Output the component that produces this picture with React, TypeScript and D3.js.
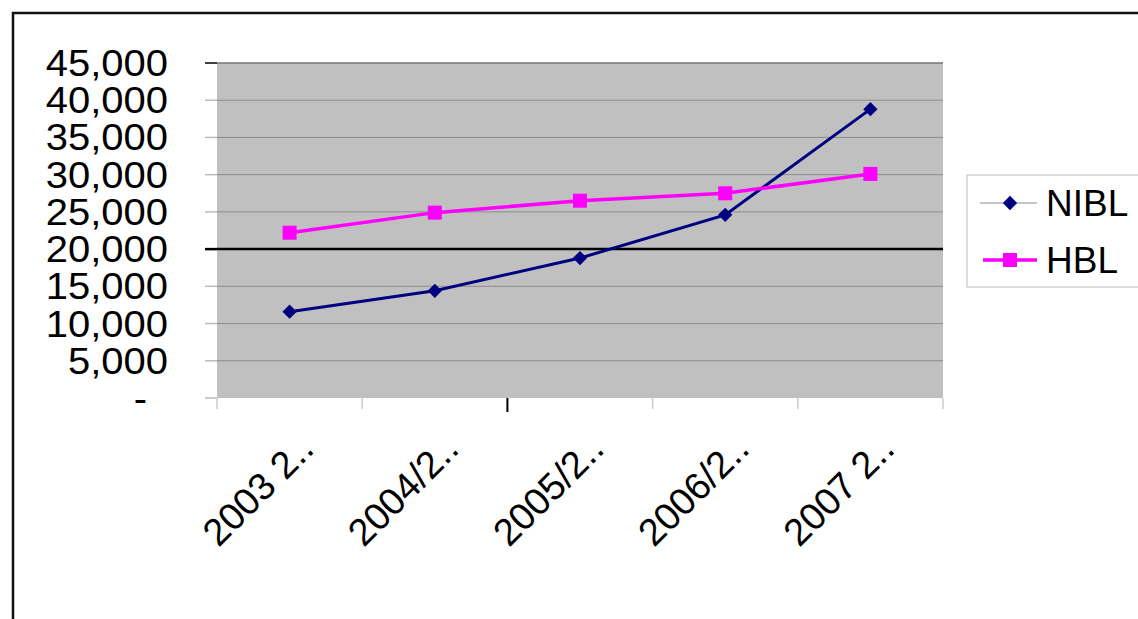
import React, { useEffect, useRef } from "react";
import * as d3 from "d3";

const categories = ["2003 2..", "2004/2..", "2005/2..", "2006/2..", "2007 2.."];
const nibl = [11600, 14400, 18800, 24600, 38800];
const hbl = [22200, 24900, 26500, 27500, 30100];
const yTicks = [0, 5000, 10000, 15000, 20000, 25000, 30000, 35000, 40000, 45000];

const App = () => {
  const ref = useRef(null);

  useEffect(() => {
    const svg = d3.select(ref.current);
    svg.selectAll("*").remove();

    const font = "Arial, 'Liberation Sans', sans-serif";
    const plot = { left: 217, right: 943, top: 63, bottom: 398 };

    // outer frame (top + left only visible)
    svg
      .append("path")
      .attr("d", "M13,619 L13,13 L1138,13")
      .attr("fill", "none")
      .attr("stroke", "#111")
      .attr("stroke-width", 2.5);

    const x = d3
      .scaleBand()
      .domain(categories)
      .range([plot.left, plot.right]);

    const y = d3
      .scaleLinear()
      .domain([0, 45000])
      .range([plot.bottom, plot.top]);

    // plot background
    svg
      .append("rect")
      .attr("x", plot.left)
      .attr("y", plot.top)
      .attr("width", plot.right - plot.left)
      .attr("height", plot.bottom - plot.top)
      .attr("fill", "#c0c0c0");

    // gridlines
    svg
      .selectAll(".grid")
      .data(yTicks.filter((t) => t > 0))
      .enter()
      .append("line")
      .attr("x1", plot.left)
      .attr("x2", plot.right)
      .attr("y1", (d) => y(d))
      .attr("y2", (d) => y(d))
      .attr("stroke", (d) => (d === 20000 ? "#000" : d === 45000 ? "#777" : "#8c8c8c"))
      .attr("stroke-width", (d) => (d === 20000 ? 2.5 : d === 45000 ? 1.5 : 1));

    // y tick marks
    svg
      .selectAll(".ytick")
      .data(yTicks)
      .enter()
      .append("line")
      .attr("x1", plot.left - 12)
      .attr("x2", plot.left)
      .attr("y1", (d) => y(d))
      .attr("y2", (d) => y(d))
      .attr("stroke", (d) => (d === 45000 || d === 20000 ? "#000" : "#bbb"))
      .attr("stroke-width", (d) => (d === 20000 ? 2.5 : 1.5));

    // y labels (slightly stretched, like the original)
    svg
      .selectAll(".ylab")
      .data(yTicks)
      .enter()
      .append("text")
      .attr("transform", (d) => `translate(${d === 0 ? 147 : 168},${y(d) + 13}) scale(1.08,1)`)
      .attr("text-anchor", "end")
      .attr("font-family", font)
      .attr("font-size", 37)
      .attr("fill", "#000")
      .text((d) => (d === 0 ? "-" : d3.format(",")(d)));

    // x tick marks at band edges
    const edges = categories.map((c) => x(c)).concat([plot.right]);
    svg
      .selectAll(".xtick")
      .data(edges)
      .enter()
      .append("line")
      .attr("x1", (d) => d)
      .attr("x2", (d) => d)
      .attr("y1", plot.bottom)
      .attr("y2", (d, i) => (i === 2 ? plot.bottom + 14 : plot.bottom + 11))
      .attr("stroke", (d, i) => (i === 2 ? "#000" : "#ccc"))
      .attr("stroke-width", (d, i) => (i === 2 ? 2 : 1.5));

    // x labels
    svg
      .selectAll(".xlab")
      .data(categories)
      .enter()
      .append("text")
      .attr("transform", (d) => `translate(${x(d) + x.bandwidth() / 2 + 26},${plot.bottom + 53}) rotate(-45)`)
      .attr("text-anchor", "end")
      .attr("font-family", font)
      .attr("font-size", 38)
      .attr("fill", "#000")
      .text((d) => d);

    const cx = (d, i) => x(categories[i]) + x.bandwidth() / 2;
    const line = d3
      .line()
      .x((d, i) => cx(d, i))
      .y((d) => y(d));

    // NIBL
    svg
      .append("path")
      .datum(nibl)
      .attr("d", line)
      .attr("fill", "none")
      .attr("stroke", "#000080")
      .attr("stroke-width", 3);

    const diamond = d3.symbol().type(d3.symbolDiamond2).size(130);
    svg
      .selectAll(".nibl")
      .data(nibl)
      .enter()
      .append("path")
      .attr("d", diamond)
      .attr("transform", (d, i) => `translate(${cx(d, i)},${y(d)})`)
      .attr("fill", "#000080");

    // HBL
    svg
      .append("path")
      .datum(hbl)
      .attr("d", line)
      .attr("fill", "none")
      .attr("stroke", "#ff00ff")
      .attr("stroke-width", 3.5);

    svg
      .selectAll(".hbl")
      .data(hbl)
      .enter()
      .append("rect")
      .attr("x", (d, i) => cx(d, i) - 7)
      .attr("y", (d) => y(d) - 7)
      .attr("width", 14)
      .attr("height", 14)
      .attr("fill", "#ff00ff");

    // legend
    const legend = svg.append("g");
    legend
      .append("rect")
      .attr("x", 967)
      .attr("y", 175)
      .attr("width", 180)
      .attr("height", 112)
      .attr("fill", "#fff")
      .attr("stroke", "#bbb")
      .attr("stroke-width", 1);

    legend
      .append("line")
      .attr("x1", 980)
      .attr("x2", 1037)
      .attr("y1", 203)
      .attr("y2", 203)
      .attr("stroke", "#8a8aa8")
      .attr("stroke-width", 1);
    legend
      .append("path")
      .attr("d", diamond)
      .attr("transform", "translate(1010,203)")
      .attr("fill", "#000080");
    legend
      .append("text")
      .attr("x", 1046)
      .attr("y", 216)
      .attr("font-family", font)
      .attr("font-size", 37)
      .text("NIBL");

    legend
      .append("line")
      .attr("x1", 983)
      .attr("x2", 1037)
      .attr("y1", 260)
      .attr("y2", 260)
      .attr("stroke", "#ff00ff")
      .attr("stroke-width", 3.5);
    legend
      .append("rect")
      .attr("x", 1003)
      .attr("y", 253)
      .attr("width", 14)
      .attr("height", 14)
      .attr("fill", "#ff00ff");
    legend
      .append("text")
      .attr("x", 1046)
      .attr("y", 273)
      .attr("font-family", font)
      .attr("font-size", 37)
      .text("HBL");
  }, []);

  return (
    <svg
      ref={ref}
      width={1138}
      height={619}
      style={{ position: "absolute", left: 0, top: 0, background: "#fff" }}
    />
  );
};

export default App;
